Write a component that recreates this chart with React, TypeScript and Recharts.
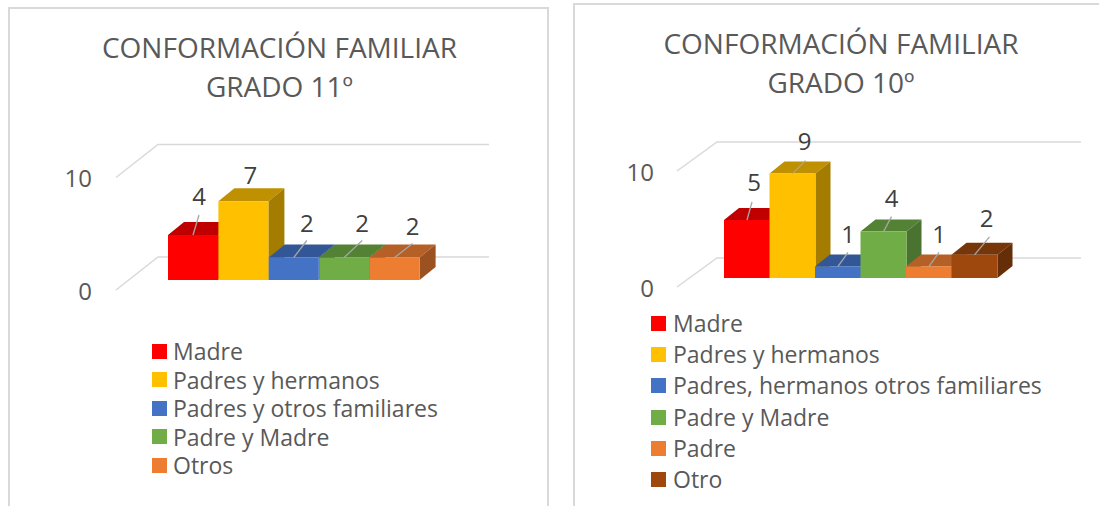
// App.tsx - conformacion familiar, two faux-3D column charts side by side
import React from "react";
import { BarChart, Bar, XAxis, YAxis, CartesianGrid, LabelList } from "recharts";

const FONT = "'Open Sans', sans-serif";

const categories11 = ["Madre", "Padres y hermanos", "Padres y otros familiares", "Padre y Madre", "Otros"];
const values11 = [4, 7, 2, 2, 2];
const categories10 = ["Madre", "Padres y hermanos", "Padres, hermanos otros familiares", "Padre y Madre", "Padre", "Otro"];
const values10 = [5, 9, 1, 4, 1, 2];
const yTicks = [0, 10];

// front, top, side
const RED = ["#FF0000", "#C00000", "#C00000"];
const YELLOW = ["#FFC000", "#BF9000", "#A37C00"];
const BLUE = ["#4472C4", "#335796", "#2C4C84"];
const GREEN = ["#70AD47", "#548235", "#4A7230"];
const ORANGE = ["#ED7D31", "#B56026", "#9B5220"];
const BROWN = ["#9E480E", "#773609", "#662E08"];
const colors11 = [RED, YELLOW, BLUE, GREEN, ORANGE];
const colors10 = [RED, YELLOW, BLUE, GREEN, ORANGE, BROWN];

// leader end and label centre, relative to top centre of each column
const labels11 = [
  { lx: 6, ly: -20, tx: 6, ty: -40, leader: true },
  { lx: 0, ly: 0, tx: 7, ty: -27, leader: false },
  { lx: 13, ly: -17, tx: 13, ty: -35, leader: true },
  { lx: 18, ly: -17, tx: 18, ty: -35, leader: true },
  { lx: 18, ly: -14, tx: 18, ty: -32, leader: true },
];
const labels10 = [
  { lx: 5, ly: -18, tx: 7, ty: -39, leader: true },
  { lx: 13, ly: -13, tx: 12, ty: -33, leader: true },
  { lx: 10, ly: -14, tx: 10, ty: -33, leader: true },
  { lx: 8, ly: -15, tx: 8, ty: -34, leader: true },
  { lx: 10, ly: -14, tx: 10, ty: -33, leader: true },
  { lx: 15, ly: -18, tx: 12, ty: -37, leader: true },
];

const panels = [
  {
    title: ["CONFORMACIÓN FAMILIAR", "GRADO 11º"],
    categories: categories11,
    values: values11,
    colors: colors11,
    labels: labels11,
    box: { left: 8, top: 7, width: 541 },
    svg: { left: 0, width: 549 },
    margin: { top: 167.5, right: 129, bottom: 226, left: 108 },
    grid: { frontX: 116, backX: 158, endX: 489, frontDy: 10, backDy: -23 },
    tickX: 92,
    titleCx: 279.5,
    titleY: 28,
    legend: { left: 152, top: 337, step: 28.5, gap: 6 },
    depth: { dx: 16, dy: 13 },
  },
  {
    title: ["CONFORMACIÓN FAMILIAR", "GRADO 10º"],
    categories: categories10,
    values: values10,
    colors: colors10,
    labels: labels10,
    box: { left: 573, top: 3, width: 540 },
    svg: { left: 573, width: 526 },
    margin: { top: 162, right: 102, bottom: 228, left: 91 },
    grid: { frontX: 677, backX: 717, endX: 1081, frontDy: 9, backDy: -20 },
    tickX: 654,
    titleCx: 841,
    titleY: 24,
    legend: { left: 651, top: 308, step: 31.2, gap: 7 },
    depth: { dx: 15, dy: 12 },
  },
];

function Panel({ p }: { p: (typeof panels)[number] }) {
  const data = p.categories.map((name, i) => ({ name, value: p.values[i] }));
  const ox = p.svg.left;

  const column = (props: any) => {
    const { x, y, width, height, index } = props;
    const [front, top, side] = p.colors[index];
    const { dx, dy } = p.depth;
    return (
      <g>
        <path d={`M${x},${y}l${dx},${-dy}h${width}l${-dx},${dy}z`} fill={top} />
        <path d={`M${x + width},${y}l${dx},${-dy}v${height}l${-dx},${dy}z`} fill={side} />
        <rect x={x} y={y} width={width} height={height} fill={front} />
      </g>
    );
  };

  const dataLabel = (props: any) => {
    const { x, y, width, value, index } = props;
    const l = p.labels[index];
    const cx = x + width / 2;
    return (
      <g>
        {l.leader && <line x1={cx} y1={y} x2={cx + l.lx} y2={y + l.ly} stroke="#A6A6A6" strokeWidth={1.3} />}
        <text x={cx + l.tx} y={y + l.ty} textAnchor="middle" dominantBaseline="central" fontFamily={FONT} fontSize={24} fill="#404040">
          {value}
        </text>
      </g>
    );
  };

  const gridLine = (props: any) => {
    const { y1, index } = props;
    const g = p.grid;
    return (
      <path
        key={index}
        d={`M${g.frontX - ox},${y1 + g.frontDy}L${g.backX - ox},${y1 + g.backDy}H${g.endX - ox}`}
        fill="none"
        stroke="#D9D9D9"
        strokeWidth={1.5}
      />
    );
  };

  const yTick = (props: any) => {
    const { y, payload } = props;
    return (
      <text x={p.tickX - ox} y={y + p.grid.frontDy} textAnchor="end" dominantBaseline="central" fontFamily={FONT} fontSize={24} fill="#595959">
        {payload.value}
      </text>
    );
  };

  return (
    <>
      <div
        style={{
          position: "absolute",
          left: p.box.left,
          top: p.box.top,
          width: p.box.width,
          height: 600,
          border: "2px solid #D9D9D9",
          boxSizing: "border-box",
          background: "#fff",
        }}
      />
      <div
        style={{
          position: "absolute",
          left: p.titleCx - 250,
          top: p.titleY,
          width: 500,
          textAlign: "center",
          fontFamily: FONT,
          fontSize: 28,
          lineHeight: "39px",
          color: "#595959",
        }}
      >
        {p.title.map((t) => (
          <div key={t}>{t}</div>
        ))}
      </div>
      <div style={{ position: "absolute", left: p.svg.left, top: 0 }}>
        <BarChart width={p.svg.width} height={506} data={data} margin={p.margin} barCategoryGap={0}>
          <CartesianGrid vertical={false} horizontal={gridLine} />
          <XAxis dataKey="name" hide />
          <YAxis domain={[0, 10]} ticks={yTicks} width={60} axisLine={false} tickLine={false} tick={yTick} />
          <Bar dataKey="value" shape={column} isAnimationActive={false}>
            <LabelList dataKey="value" content={dataLabel} />
          </Bar>
        </BarChart>
      </div>
      <div style={{ position: "absolute", left: p.legend.left, top: p.legend.top, fontFamily: FONT, fontSize: 23, color: "#595959" }}>
        {p.categories.map((name, i) => (
          <div
            key={name}
            style={{ display: "flex", alignItems: "center", height: p.legend.step, lineHeight: `${p.legend.step}px`, whiteSpace: "nowrap" }}
          >
            <span style={{ width: 15, height: 15, background: p.colors[i][0], marginRight: p.legend.gap, flexShrink: 0 }} />
            {name}
          </div>
        ))}
      </div>
    </>
  );
}

export default function App() {
  return (
    <div style={{ position: "fixed", left: 0, top: 0, width: 1099, height: 506, overflow: "hidden", background: "#fff" }}>
      {panels.map((p) => (
        <Panel key={p.title[1]} p={p} />
      ))}
    </div>
  );
}
